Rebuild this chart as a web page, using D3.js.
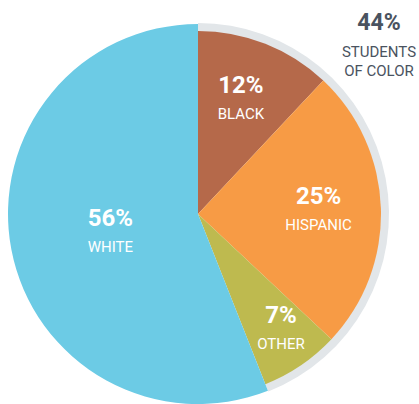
<!DOCTYPE html>
<html><head><meta charset="utf-8">
<script src="https://cdn.jsdelivr.net/npm/d3@7"></script>
<style>
html,body{margin:0;padding:0;background:#fff;}
svg{display:block;}
text{font-family:Roboto,"DejaVu Sans",sans-serif;}
</style></head>
<body>
<svg id="c" width="419" height="404"></svg>
<script>
const categories = ["BLACK", "HISPANIC", "OTHER", "WHITE"];
const values = [12, 25, 7, 56];
const groupTitle = "44%";
const groupLabel = ["STUDENTS", "OF COLOR"];
const groupedCategories = ["BLACK", "HISPANIC", "OTHER"];

const W = 419, H = 404;
const cx = 198, cy = 214;
const rIn = 183, rBig = 190, ringOuter = 191;

const color = d3.scaleOrdinal().domain(categories)
  .range(["#B5694A", "#F79B45", "#BEBA4F", "#6CCBE5"]);

const svg = d3.select("#c");
const g = svg.append("g").attr("transform", `translate(${cx},${cy})`);

const data = categories.map((c, i) => ({cat: c, value: values[i]}));
const pie = d3.pie().value(d => d.value).sort(null).startAngle(0).endAngle(2 * Math.PI);
const arcs = pie(data);

// grey ring around grouped categories
const grouped = arcs.filter(a => groupedCategories.includes(a.data.cat));
const gStart = d3.min(grouped, a => a.startAngle), gEnd = d3.max(grouped, a => a.endAngle);
g.append("path")
  .attr("d", d3.arc()({innerRadius: rIn - 1, outerRadius: ringOuter, startAngle: gStart, endAngle: gEnd}))
  .attr("fill", "#E2E6E9");

g.selectAll("path.slice").data(arcs).enter().append("path")
  .attr("class", "slice")
  .attr("d", a => d3.arc()({innerRadius: 0,
      outerRadius: groupedCategories.includes(a.data.cat) ? rIn : rBig,
      startAngle: a.startAngle, endAngle: a.endAngle}))
  .attr("fill", a => color(a.data.cat));

// label anchors (polar: radius, angle in degrees from top)
const labelPos = {BLACK: [128, 19.6], HISPANIC: [121, 85.3], OTHER: [137, 142.7], WHITE: [88.5, 262.2]};
arcs.forEach(a => {
  const [r, deg] = labelPos[a.data.cat];
  const t = deg * Math.PI / 180;
  const x = r * Math.sin(t), y = -r * Math.cos(t);
  g.append("text").attr("x", x).attr("y", y).attr("text-anchor", "middle")
    .attr("fill", "#fff").attr("font-weight", "bold").attr("font-size", 24)
    .text(a.data.value + "%");
  g.append("text").attr("x", x).attr("y", y + 26).attr("text-anchor", "middle")
    .attr("fill", "#fff").attr("font-size", 15)
    .text(a.data.cat);
});

// group annotation
const ann = svg.append("g").attr("fill", "#4A5360").attr("text-anchor", "middle");
ann.append("text").attr("x", 379).attr("y", 30).attr("font-weight", "bold").attr("font-size", 23)
  .text(groupTitle);
groupLabel.forEach((t, i) => {
  ann.append("text").attr("x", 379).attr("y", 57 + i * 19).attr("font-size", 15)
    .text(t);
});
</script>
</body></html>
